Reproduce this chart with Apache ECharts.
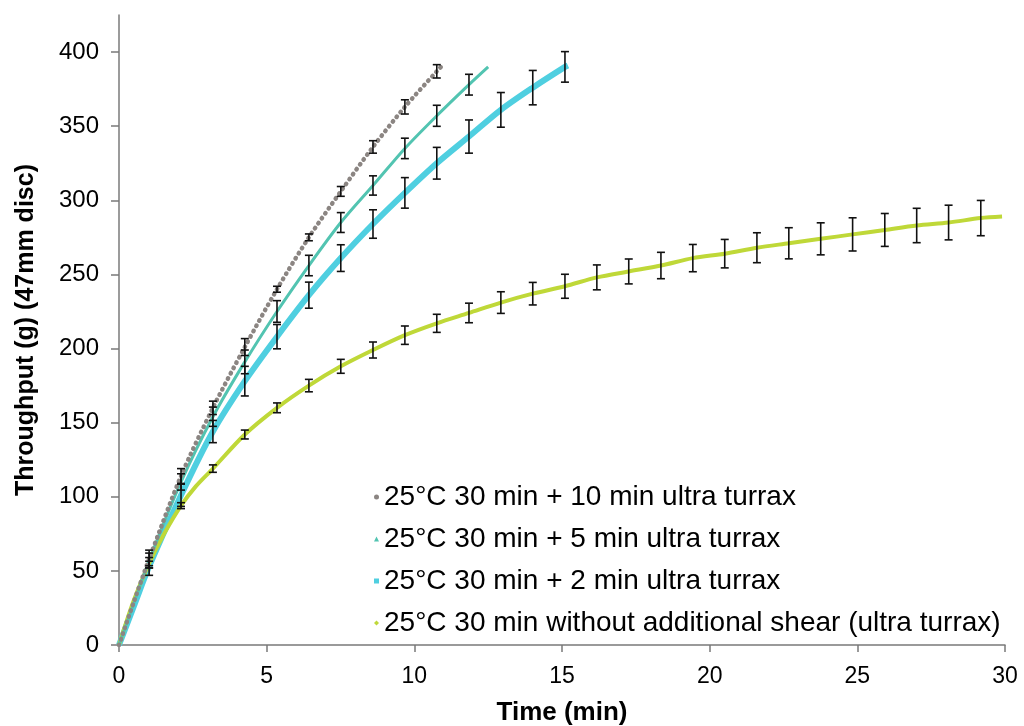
<!DOCTYPE html>
<html>
<head>
<meta charset="utf-8">
<script src="https://cdn.jsdelivr.net/npm/echarts@6/dist/echarts.min.js"></script>
<style>
html, body { margin: 0; padding: 0; background: #fff; }
#chart { width: 1024px; height: 726px; }
</style>
</head>
<body>
<div id="chart"></div>
<script>
// series names (legend order)
const names = [
  '25°C 30 min + 10 min ultra turrax',
  '25°C 30 min + 5 min ultra turrax',
  '25°C 30 min + 2 min ultra turrax',
  '25°C 30 min without additional shear (ultra turrax)'
]

// curve points (time in min, throughput in g)
const greyT = [0, 0.5, 1.02, 2.1, 3.18, 4.26, 5.35, 6.43, 7.51, 8.6, 9.68, 10.76, 10.9]
const greyV = [0, 29, 58, 114, 160, 201, 240, 275, 306, 336, 363, 387, 390]
const tealT = [0, 0.5, 1.02, 2.1, 3.18, 4.26, 5.35, 6.43, 7.51, 8.6, 9.68, 10.76, 11.85, 12.5]
const tealV = [0, 28, 57, 110, 154, 191, 225, 256, 285, 310, 335, 357, 378, 390]
const cyanT = [0, 0.5, 1.02, 2.1, 3.18, 4.26, 5.35, 6.43, 7.51, 8.6, 9.68, 10.76, 11.85, 12.93, 14.01, 15.1, 15.2]
const cyanV = [0, 26, 53, 101, 144, 178, 208, 236, 261, 284, 305, 325, 343, 361, 376, 390, 391]
const limeT = [0, 0.5, 1.02, 1.5, 2.1, 2.6, 3.18, 4.26, 5.35, 6.43, 7.51, 8.6, 9.68, 10.76, 11.85, 12.93, 14.01,
  15.1, 16.18, 17.26, 18.35, 19.43, 20.51, 21.6, 22.68, 23.76, 24.84, 25.93, 27.01, 28.09, 29.18, 29.9]
const limeV = [0, 30, 55, 74, 94, 107, 119, 142, 160, 175, 188, 199, 209, 217, 224, 231, 237,
  242, 248, 252, 256, 261, 264, 268, 271, 274, 277, 280, 283, 285, 288, 289]

// error bars (time, half length in g) – centres sit on the curve points above
const barT = [1.02, 2.1, 3.18, 4.26, 5.35, 6.43, 7.51, 8.6, 9.68, 10.76, 11.85, 12.93, 14.01, 15.1,
  16.18, 17.26, 18.35, 19.43, 20.51, 21.6, 22.68, 23.76, 24.84, 25.93, 27.01, 28.09, 29.18]
const greyErr = [6, 5, 4.5, 5.7, 2, 2.3, 3.3, 4.2, 4.8, 4.5]
const tealErr = [5, 5.5, 6.5, 8, 7.3, 6.9, 6.7, 6.5, 6.9, 7.1, 7]
const cyanErr = [6, 7.5, 7.5, 10, 8.2, 8.8, 9, 9.6, 10.3, 10.7, 11.2, 11.7, 11.6, 10.3]
const limeErr = [1.5, 2, 2.5, 3, 3.3, 4.2, 4.7, 5.4, 6.2, 6.1, 6.6, 7.3, 7.6, 8.1,
  8.4, 8.4, 8.9, 9.2, 9.6, 10.1, 10.5, 10.8, 11.2, 11.1, 11.6, 11.7, 11.9]

const yTicks = [0, 50, 100, 150, 200, 250, 300, 350, 400]

const colors = ['#8b8582', '#52c4b1', '#4fcfe0', '#bfd838']
const font = 'Liberation Sans, Arial, sans-serif'

function pairs (ts, vs) {
  return ts.map((t, i) => [t, vs[i]])
}
function bars (ts, vs, errs) {
  return errs.map((e, i) => {
    const k = ts.indexOf(barT[i])
    return [barT[i], vs[k], e]
  })
}

function errorBars (params, api) {
  const x = api.value(0)
  const y = api.value(1)
  const e = api.value(2)
  const top = api.coord([x, y + e])
  const bot = api.coord([x, y - e])
  const w = 4
  const style = { stroke: '#111', lineWidth: 1.6 }
  return {
    type: 'group',
    children: [
      { type: 'line', shape: { x1: top[0], y1: top[1], x2: bot[0], y2: bot[1] }, style },
      { type: 'line', shape: { x1: top[0] - w, y1: top[1], x2: top[0] + w, y2: top[1] }, style },
      { type: 'line', shape: { x1: bot[0] - w, y1: bot[1], x2: bot[0] + w, y2: bot[1] }, style }
    ]
  }
}

const myChart = echarts.init(document.getElementById('chart'))

const axisStyle = { color: '#7a7a7a', width: 1.5 }

myChart.setOption({
  animation: false,
  grid: { left: 119, right: 19, top: 15, bottom: 81, outerBoundsMode: 'none' },
  xAxis: {
    type: 'value',
    min: 0,
    max: 30,
    interval: 5,
    name: 'Time (min)',
    nameLocation: 'middle',
    nameGap: 55,
    nameTextStyle: { fontFamily: font, fontSize: 26, fontWeight: 'bold', color: '#000' },
    axisLine: { lineStyle: axisStyle },
    axisTick: { length: 7, lineStyle: axisStyle },
    axisLabel: { margin: 20, fontFamily: font, fontSize: 23, color: '#000' },
    splitLine: { show: false }
  },
  yAxis: {
    type: 'value',
    min: 0,
    max: 425,
    name: 'Throughput (g) (47mm disc)',
    nameLocation: 'middle',
    nameGap: 80,
    nameTextStyle: { fontFamily: font, fontSize: 25, fontWeight: 'bold', color: '#000' },
    axisLine: { show: true, lineStyle: axisStyle },
    axisTick: { show: true, length: 8, lineStyle: axisStyle, customValues: yTicks },
    axisLabel: { margin: 20, fontFamily: font, fontSize: 24, color: '#000', customValues: yTicks },
    splitLine: { show: false }
  },
  legend: {
    orient: 'vertical',
    left: 369,
    top: 477,
    itemWidth: 5,
    itemHeight: 5,
    itemGap: 12,
    textStyle: { fontFamily: font, fontSize: 28, color: '#000', lineHeight: 30 },
    data: [
      { name: names[0], icon: 'circle' },
      { name: names[1], icon: 'triangle' },
      { name: names[2], icon: 'rect' },
      { name: names[3], icon: 'diamond' }
    ]
  },
  series: [
    {
      name: names[2],
      type: 'line',
      data: pairs(cyanT, cyanV),
      smooth: 0.3,
      showSymbol: false,
      color: colors[2],
      lineStyle: { width: 6, color: colors[2] },
      z: 2
    },
    {
      name: names[3],
      type: 'line',
      data: pairs(limeT, limeV),
      smooth: 0.3,
      showSymbol: false,
      color: colors[3],
      lineStyle: { width: 4, color: colors[3] },
      z: 3
    },
    {
      name: names[1],
      type: 'line',
      data: pairs(tealT, tealV),
      smooth: 0.3,
      showSymbol: false,
      color: colors[1],
      lineStyle: { width: 3, color: colors[1] },
      z: 4
    },
    {
      name: names[0],
      type: 'line',
      data: pairs(greyT, greyV),
      smooth: 0.3,
      showSymbol: false,
      color: colors[0],
      lineStyle: { width: 4.5, color: colors[0], type: [0.5, 5.5], cap: 'round' },
      z: 5
    },
    { type: 'custom', renderItem: errorBars, data: bars(cyanT, cyanV, cyanErr), z: 10 },
    { type: 'custom', renderItem: errorBars, data: bars(limeT, limeV, limeErr), z: 10 },
    { type: 'custom', renderItem: errorBars, data: bars(tealT, tealV, tealErr), z: 10 },
    { type: 'custom', renderItem: errorBars, data: bars(greyT, greyV, greyErr), z: 10 }
  ]
})
window.addEventListener('resize', () => {
  myChart.resize()
})
</script>
</body>
</html>
